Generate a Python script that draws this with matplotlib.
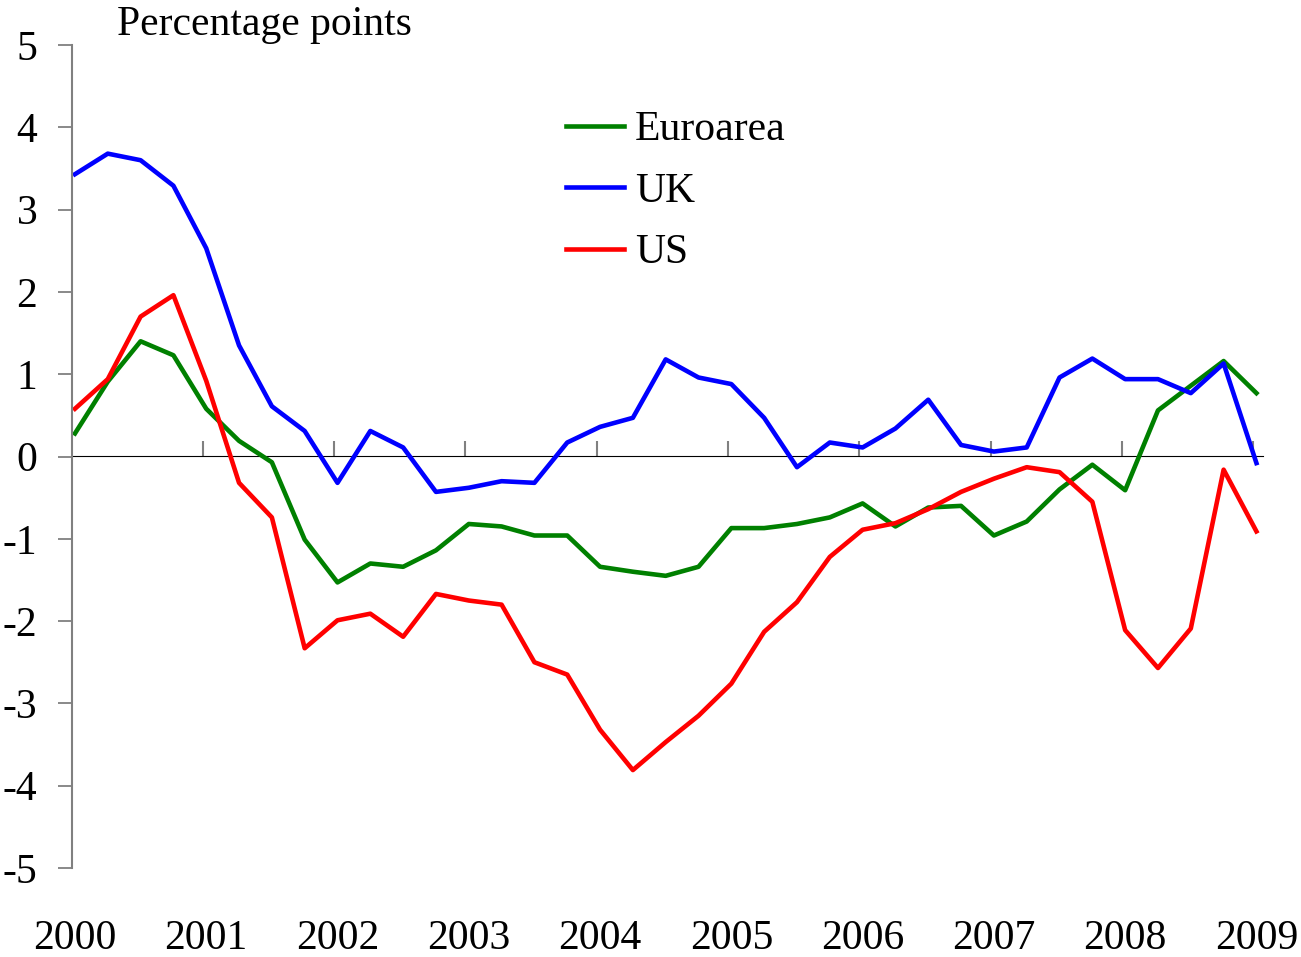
import matplotlib
matplotlib.use("Agg")
import matplotlib.pyplot as plt
import numpy as np

plt.rcParams['font.family'] = ['Liberation Serif', 'DejaVu Serif']

years = ['2000', '2001', '2002', '2003', '2004', '2005', '2006', '2007', '2008', '2009']

euroarea = [0.28, 0.91, 1.40, 1.23, 0.58, 0.19, -0.07, -1.01, -1.53, -1.30,
            -1.34, -1.14, -0.82, -0.85, -0.96, -0.96, -1.34, -1.40, -1.45, -1.34,
            -0.87, -0.87, -0.82, -0.74, -0.57, -0.85, -0.62, -0.60, -0.96, -0.79,
            -0.40, -0.10, -0.41, 0.56, 0.86, 1.16, 0.77]
uk = [3.43, 3.68, 3.60, 3.29, 2.53, 1.35, 0.61, 0.31, -0.32, 0.31,
      0.11, -0.43, -0.38, -0.30, -0.32, 0.17, 0.36, 0.47, 1.18, 0.96,
      0.88, 0.47, -0.13, 0.17, 0.11, 0.34, 0.69, 0.14, 0.06, 0.11,
      0.96, 1.19, 0.94, 0.94, 0.77, 1.13, -0.08]
us = [0.58, 0.94, 1.70, 1.96, 0.92, -0.32, -0.74, -2.33, -1.99, -1.91,
      -2.19, -1.67, -1.75, -1.80, -2.50, -2.65, -3.32, -3.81, -3.47, -3.15,
      -2.76, -2.13, -1.77, -1.22, -0.89, -0.81, -0.64, -0.43, -0.27, -0.13,
      -0.19, -0.55, -2.11, -2.57, -2.09, -0.16, -0.91]

x = np.arange(len(uk))
FS = 30

fig = plt.figure(figsize=(13.01, 9.57), dpi=100)
ax = fig.add_axes([72/1301, 1-868/957, (1263-72)/1301, (868-45)/957])

ax.plot(x, euroarea, color='#008000', lw=3.3, label='Euroarea')
ax.plot(x, uk, color='#0000FF', lw=3.3, label='UK')
ax.plot(x, us, color='#FF0000', lw=3.3, label='US')

ax.set_xlim(-0.09, 36.2)
ax.set_ylim(-5, 5)

for s in ['top', 'right', 'bottom']:
    ax.spines[s].set_visible(False)
ax.spines['left'].set_color('#808080')
ax.spines['left'].set_linewidth(1.5)

ax.set_yticks(range(-5, 6))
ax.set_yticklabels([str(v) for v in range(-5, 6)])
ax.tick_params(axis='y', direction='out', length=10, width=1.3, color='#808080',
               labelsize=FS, pad=15)

ax.set_xticks(np.arange(0, 37, 4))
ax.set_xticklabels(years)
ax.tick_params(axis='x', length=0, labelsize=FS, pad=37)

sec = ax.secondary_xaxis(0.5)
sec.set_xticks(np.arange(0, 37, 4) - 0.1)
sec.set_xticklabels([])
sec.tick_params(axis='x', direction='out', length=11, width=1.5, color='#808080')
sec.spines['bottom'].set_color('black')
sec.spines['bottom'].set_linewidth(1.3)

fig.text(117/1301, 1-35/957, 'Percentage points', fontsize=FS, va='baseline', ha='left')

leg = ax.legend(loc='upper left', bbox_to_anchor=(566/1301, 1-111/957),
                bbox_transform=fig.transFigure, frameon=False, fontsize=FS,
                handlelength=1.38, handletextpad=0.28, labelspacing=0.55,
                borderpad=0, borderaxespad=0)

fig.savefig('out.png', dpi=100)
